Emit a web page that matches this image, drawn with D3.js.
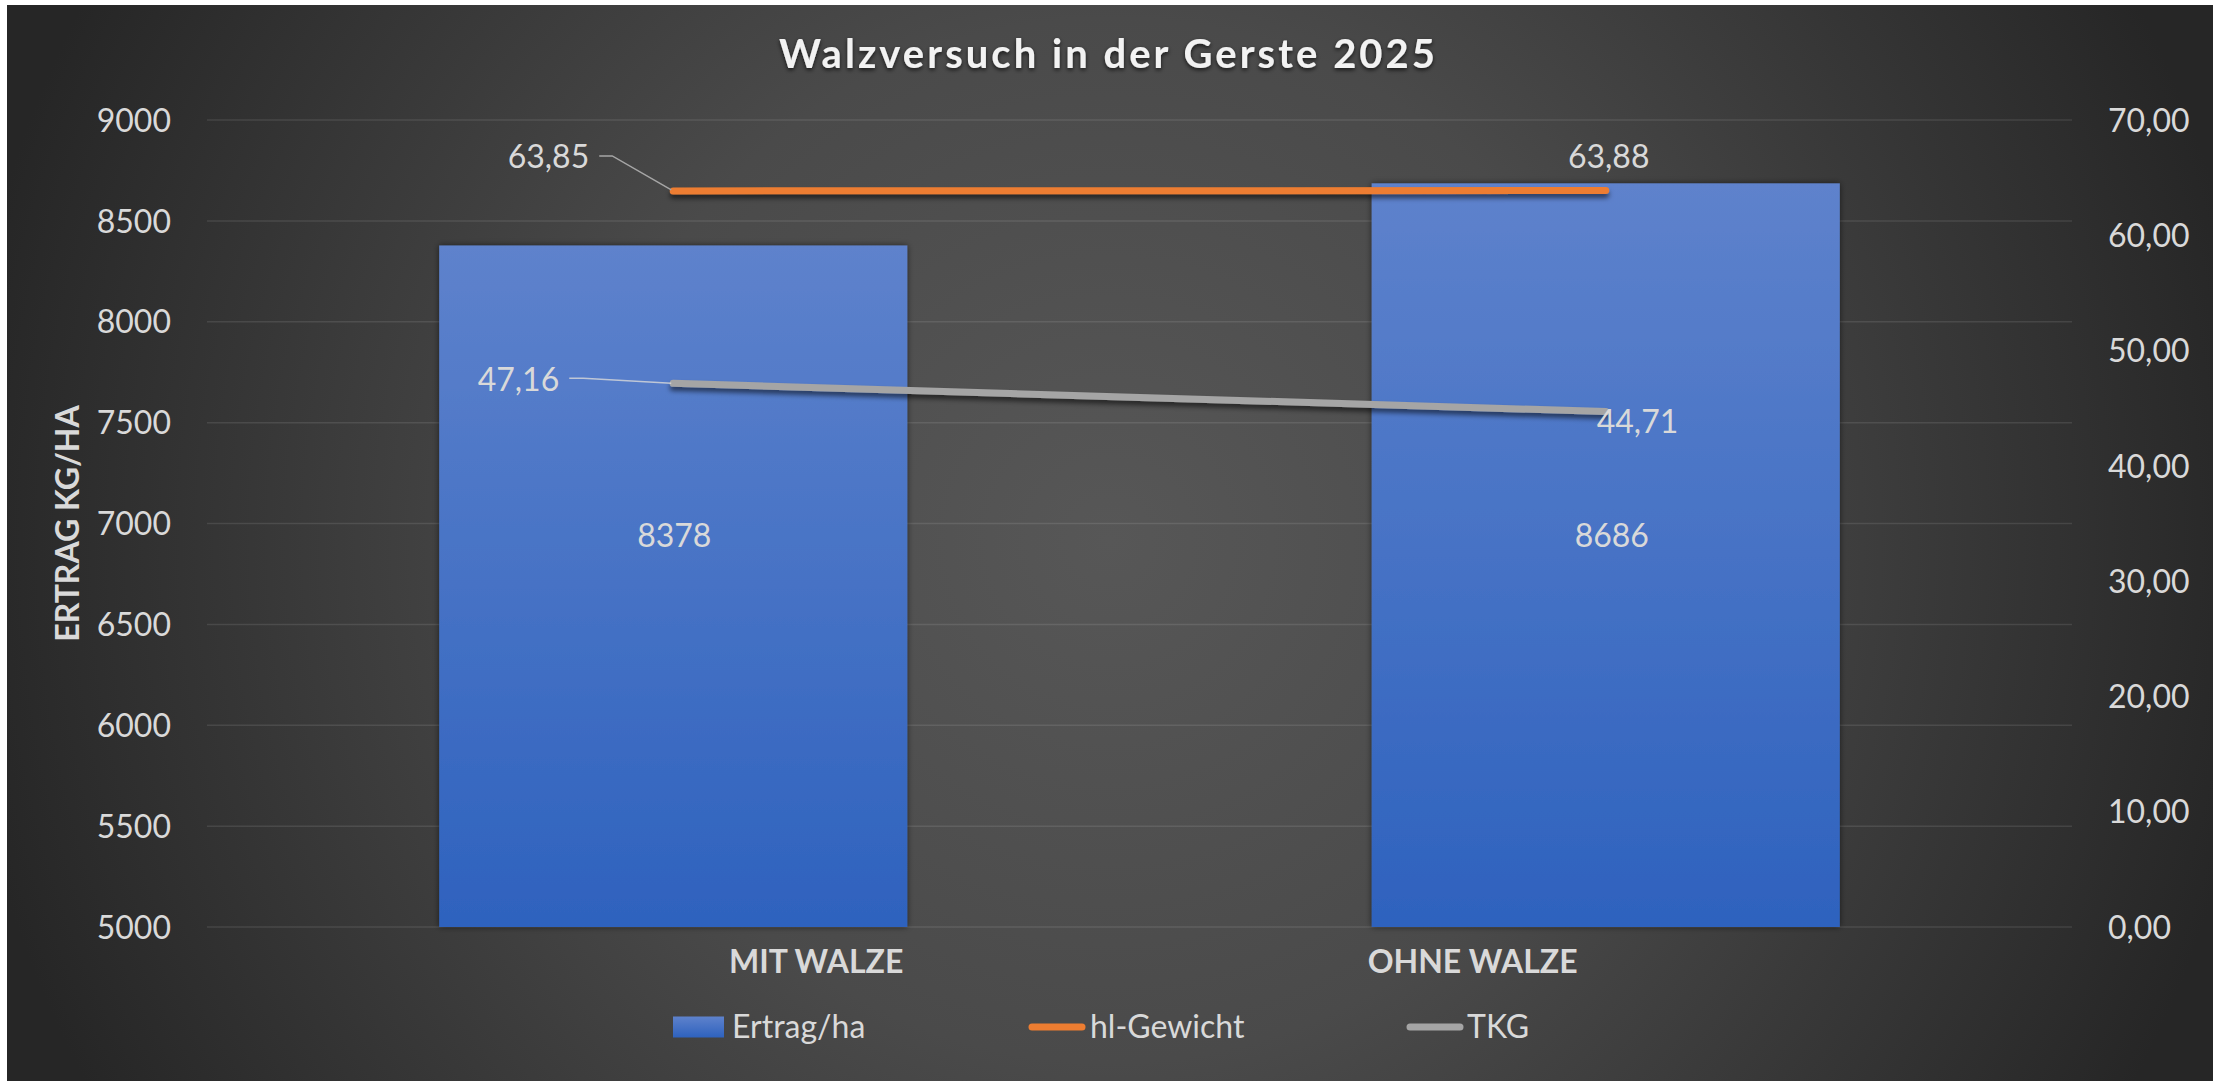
<!DOCTYPE html>
<html>
<head>
<meta charset="utf-8">
<script src="https://cdn.jsdelivr.net/npm/d3@7"></script>
<style>
  html, body { margin: 0; padding: 0; background: #ffffff; }
  svg { display: block; }
  text { font-family: Lato, "Open Sans", sans-serif; }
</style>
</head>
<body>
<svg id="chart"></svg>
<script>
// 1) Data ----------------------------------------------------------
const categories = ['MIT WALZE', 'OHNE WALZE'];
const ertrag = [8378, 8686];          // Ertrag/ha (left axis)
const hlGewicht = [63.85, 63.88];     // hl-Gewicht (right axis)
const tkg = [47.16, 44.71];           // TKG (right axis)
const leftTicks = [5000, 5500, 6000, 6500, 7000, 7500, 8000, 8500, 9000];
const rightTicks = [0, 10, 20, 30, 40, 50, 60, 70];
const legendLabels = ['Ertrag/ha', 'hl-Gewicht', 'TKG'];

// 2) Dimensions ----------------------------------------------------
const width = 2213;
const height = 1081;
const plot = { left: 207, right: 2072, top: 120, bottom: 927 };

const svg = d3.select('#chart')
  .attr('width', width)
  .attr('height', height);

const de = d3.formatLocale({ decimal: ',', thousands: '.', grouping: [3], currency: ['', ' €'] });
const fmt2 = de.format('.2f');

// 3) Defs: gradients + shadows -------------------------------------
const defs = svg.append('defs');

const bg = defs.append('radialGradient')
  .attr('id', 'bg')
  .attr('gradientUnits', 'userSpaceOnUse')
  .attr('cx', 1110).attr('cy', 540).attr('r', 1160);
bg.append('stop').attr('offset', 0).attr('stop-color', '#575757');
bg.append('stop').attr('offset', 0.45).attr('stop-color', '#4a4a4a');
bg.append('stop').attr('offset', 1).attr('stop-color', '#262626');

const barGrad = defs.append('linearGradient')
  .attr('id', 'barGrad')
  .attr('x1', 0).attr('y1', 0).attr('x2', 0).attr('y2', 1);
barGrad.append('stop').attr('offset', 0).attr('stop-color', '#5e82cc');
barGrad.append('stop').attr('offset', 1).attr('stop-color', '#2e62be');

// filters in user space, so flat horizontal lines are not clipped
function shadow(id, dy, std, op) {
  const f = defs.append('filter')
    .attr('id', id)
    .attr('filterUnits', 'userSpaceOnUse')
    .attr('x', 0).attr('y', 0)
    .attr('width', width).attr('height', height);
  f.append('feDropShadow')
    .attr('dx', 0).attr('dy', dy)
    .attr('stdDeviation', std)
    .attr('flood-color', '#000')
    .attr('flood-opacity', op);
}
shadow('barShadow', 0, 3, 0.55);
shadow('lineShadow', 4, 2.5, 0.55);
shadow('titleShadow', 2, 2, 0.7);

// 4) Background ----------------------------------------------------
svg.append('rect')
  .attr('x', 7).attr('y', 5)
  .attr('width', width - 7).attr('height', height - 5)
  .attr('fill', 'url(#bg)');

// 5) Scales --------------------------------------------------------
const x = d3.scaleBand()
  .domain(categories)
  .range([plot.left, plot.right])
  .paddingInner(0.498)
  .paddingOuter(0.249);

const xc = d => x(d) + x.bandwidth() / 2;

const yLeft = d3.scaleLinear().domain([5000, 9000]).range([plot.bottom, plot.top]);
const yRight = d3.scaleLinear().domain([0, 70]).range([plot.bottom, plot.top]);

// 6) Gridlines -----------------------------------------------------
svg.append('g')
  .selectAll('line')
  .data(leftTicks)
  .enter().append('line')
  .attr('x1', plot.left).attr('x2', plot.right)
  .attr('y1', d => yLeft(d)).attr('y2', d => yLeft(d))
  .attr('stroke', '#ffffff')
  .attr('stroke-opacity', 0.1)
  .attr('stroke-width', 1.5);

// 7) Axes ----------------------------------------------------------
const axisL = svg.append('g')
  .attr('transform', `translate(${plot.left},0)`)
  .call(d3.axisLeft(yLeft).tickValues(leftTicks).tickSize(0).tickPadding(36).tickFormat(d3.format('d')));

const axisR = svg.append('g')
  .attr('transform', `translate(${plot.right},0)`)
  .call(d3.axisRight(yRight).tickValues(rightTicks).tickSize(0).tickPadding(36).tickFormat(fmt2));

[axisL, axisR].forEach(a => {
  a.select('.domain').remove();
  a.selectAll('text')
    .attr('fill', '#d9d9d9')
    .attr('font-family', 'Lato, "Open Sans", sans-serif')
    .attr('font-size', 32)
    .attr('dy', '0.35em');
});

// Category labels (pulled toward the middle, as in the original)
svg.append('g')
  .selectAll('text')
  .data(categories)
  .enter().append('text')
  .attr('x', (d, i) => i === 0 ? x(d) + x.bandwidth() - 4 : x(d) - 4)
  .attr('y', 973)
  .attr('text-anchor', (d, i) => i === 0 ? 'end' : 'start')
  .attr('fill', '#d9d9d9')
  .attr('font-size', 32)
  .attr('font-weight', 700)
  .text(d => d);

// Y axis title
svg.append('text')
  .attr('transform', `translate(79,${(plot.top + plot.bottom) / 2}) rotate(-90)`)
  .attr('text-anchor', 'middle')
  .attr('fill', '#d9d9d9')
  .attr('font-size', 32)
  .attr('font-weight', 700)
  .text('ERTRAG KG/HA');

// Title
svg.append('text')
  .attr('x', 1107)
  .attr('y', 68)
  .attr('text-anchor', 'middle')
  .attr('fill', '#f2f2f2')
  .attr('font-size', 40)
  .attr('font-weight', 700)
  .attr('textLength', 656)
  .attr('lengthAdjust', 'spacing')
  .attr('filter', 'url(#titleShadow)')
  .text('Walzversuch in der Gerste 2025');

// 8) Bars ----------------------------------------------------------
svg.append('g')
  .selectAll('rect')
  .data(ertrag)
  .enter().append('rect')
  .attr('x', (d, i) => x(categories[i]))
  .attr('y', d => yLeft(d))
  .attr('width', x.bandwidth())
  .attr('height', d => plot.bottom - yLeft(d))
  .attr('fill', 'url(#barGrad)')
  .attr('filter', 'url(#barShadow)');

svg.append('g')
  .selectAll('text')
  .data(ertrag)
  .enter().append('text')
  .attr('x', (d, i) => xc(categories[i]) + (i === 0 ? 1 : 6))
  .attr('y', yLeft(6940))
  .attr('dy', '0.35em')
  .attr('text-anchor', 'middle')
  .attr('fill', '#d9d9d9')
  .attr('font-size', 32)
  .text(d => d);

// 9) Lines ---------------------------------------------------------
const line = d3.line()
  .x((d, i) => xc(categories[i]))
  .y(d => yRight(d));

const series = [
  { name: 'hl-Gewicht', values: hlGewicht, color: '#ed7d31' },
  { name: 'TKG', values: tkg, color: '#a5a5a5' }
];

svg.append('g')
  .selectAll('path')
  .data(series)
  .enter().append('path')
  .attr('d', d => line(d.values))
  .attr('fill', 'none')
  .attr('stroke', d => d.color)
  .attr('stroke-width', 7)
  .attr('stroke-linecap', 'round')
  .attr('filter', 'url(#lineShadow)');

// 10) Line data labels --------------------------------------------
const labels = svg.append('g')
  .attr('fill', '#d9d9d9')
  .attr('font-size', 32);

// hl-Gewicht, first point: label left with leader line
{
  const px = xc(categories[0]), py = yRight(hlGewicht[0]);
  const lx = px - 84, ly = py - 34;
  labels.append('text').attr('x', lx).attr('y', ly).attr('dy', '0.35em')
    .attr('text-anchor', 'end').text(fmt2(hlGewicht[0]));
  svg.append('path')
    .attr('d', `M${lx + 10},${ly - 1}H${lx + 23}L${px - 2},${py - 1}`)
    .attr('fill', 'none').attr('stroke', '#a6a6a6').attr('stroke-width', 1.5);
}
// hl-Gewicht, second point: above
{
  const px = xc(categories[1]), py = yRight(hlGewicht[1]);
  labels.append('text').attr('x', px + 3).attr('y', py - 34).attr('dy', '0.35em')
    .attr('text-anchor', 'middle').text(fmt2(hlGewicht[1]));
}
// TKG, first point: label left with leader line
{
  const px = xc(categories[0]), py = yRight(tkg[0]);
  const lx = px - 114, ly = py - 4;
  labels.append('text').attr('x', lx).attr('y', ly).attr('dy', '0.35em')
    .attr('text-anchor', 'end').text(fmt2(tkg[0]));
  svg.append('path')
    .attr('d', `M${lx + 10},${ly - 1}H${lx + 24}L${px - 2},${py}`)
    .attr('fill', 'none').attr('stroke', '#d9d9d9').attr('stroke-opacity', 0.8).attr('stroke-width', 1.5);
}
// TKG, second point: right / below
{
  const px = xc(categories[1]), py = yRight(tkg[1]);
  labels.append('text').attr('x', px - 9).attr('y', py + 10).attr('dy', '0.35em')
    .attr('text-anchor', 'start').text(fmt2(tkg[1]));
}

// 11) Legend -------------------------------------------------------
const legendX = [673, 1029, 1407];
const legendY = 1027;
const legend = svg.append('g');

legend.append('rect')
  .attr('x', legendX[0]).attr('y', legendY - 10.5)
  .attr('width', 51).attr('height', 21)
  .attr('fill', 'url(#barGrad)');

series.forEach((s, i) => {
  legend.append('line')
    .attr('x1', legendX[i + 1] + 3).attr('x2', legendX[i + 1] + 53)
    .attr('y1', legendY).attr('y2', legendY)
    .attr('stroke', s.color)
    .attr('stroke-width', 7)
    .attr('stroke-linecap', 'round');
});

legend.selectAll('text')
  .data(legendLabels)
  .enter().append('text')
  .attr('x', (d, i) => legendX[i] + (i === 0 ? 59 : (i === 1 ? 61 : 60)))
  .attr('y', legendY)
  .attr('dy', '0.35em')
  .attr('fill', '#d9d9d9')
  .attr('font-size', 32)
  .text(d => d);
</script>
</body>
</html>
